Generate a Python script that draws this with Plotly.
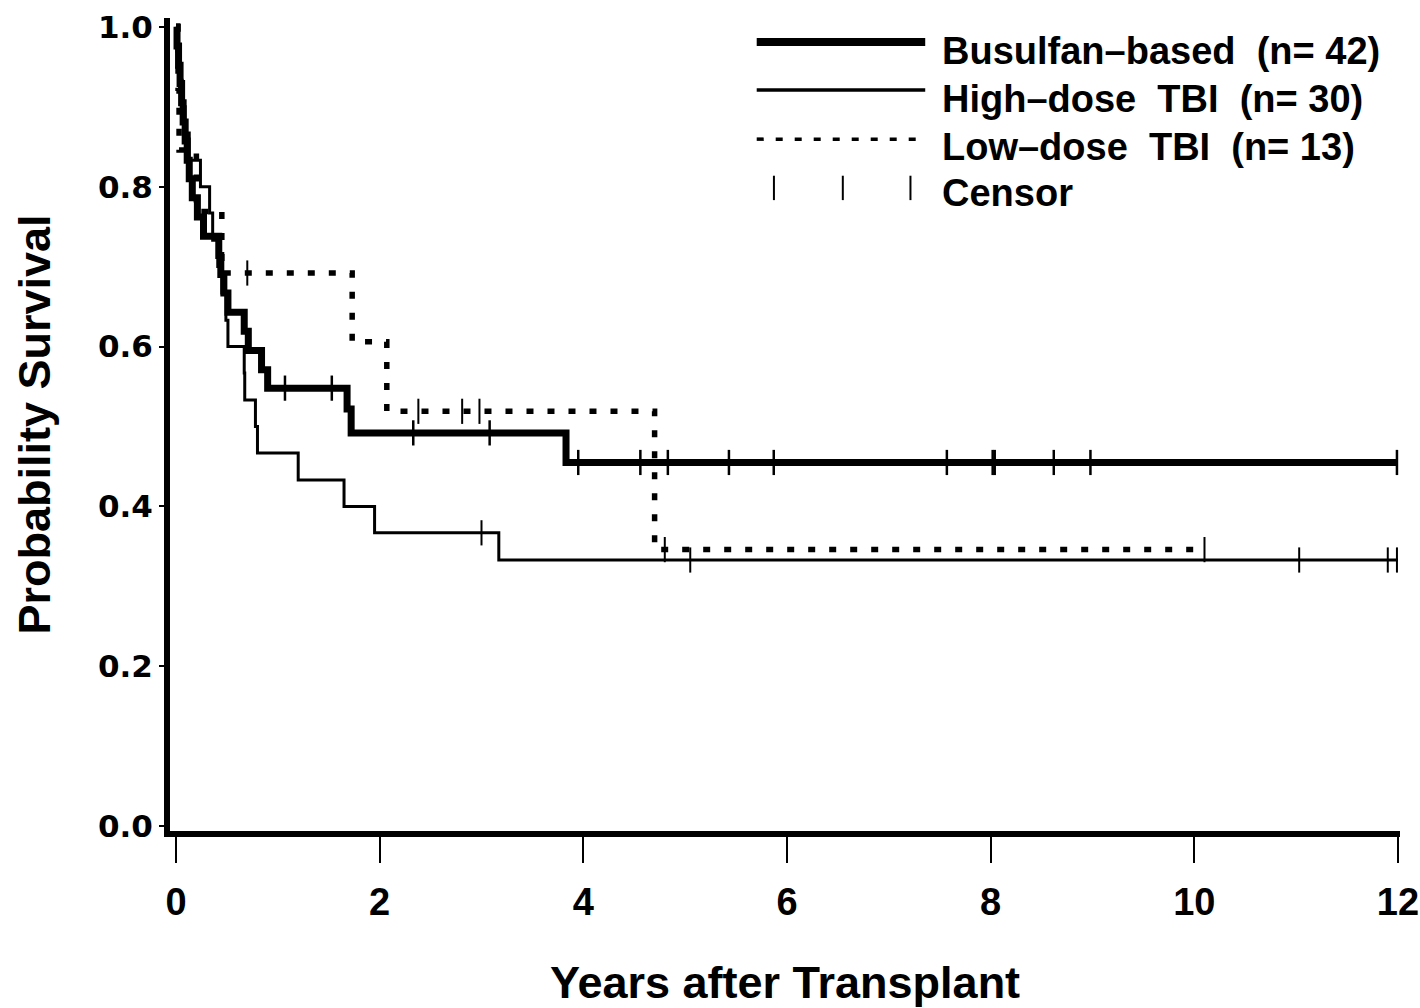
import plotly.graph_objects as go

# ---------------- data ----------------
# Busulfan-based (n=42)
bu_t = [0, 0.01, 0.025, 0.04, 0.055, 0.07, 0.09, 0.11, 0.13, 0.16, 0.21, 0.27,
        0.42, 0.44, 0.47, 0.51, 0.67, 0.71, 0.84, 0.90, 1.68, 1.72, 3.83, 12.0]
bu_s = [1.0, 0.976, 0.952, 0.929, 0.905, 0.881, 0.857, 0.833, 0.810, 0.786, 0.762, 0.738,
        0.714, 0.690, 0.667, 0.643, 0.619, 0.595, 0.571, 0.548, 0.522, 0.492, 0.455, 0.455]
bu_cens = [1.07, 1.53, 2.33, 3.08, 3.95, 4.56, 4.83, 5.43, 5.87, 7.57, 8.02, 8.04,
           8.62, 8.98, 11.99]

# High-dose TBI (n=30)
hd_t = [0, 0.02, 0.04, 0.06, 0.09, 0.13, 0.24, 0.33, 0.36, 0.41, 0.45, 0.49, 0.51,
        0.67, 0.675, 0.78, 0.80, 1.20, 1.65, 1.95, 3.17, 12.0]
hd_s = [1.0, 0.967, 0.933, 0.900, 0.867, 0.833, 0.800, 0.767, 0.733, 0.700, 0.667, 0.633, 0.600,
        0.567, 0.533, 0.500, 0.467, 0.433, 0.400, 0.367, 0.333, 0.333]
hd_cens = [3.00, 5.05, 11.03, 11.90, 11.99]

# Low-dose TBI (n=13)
lo_t = [0, 0.02, 0.03, 0.20, 0.45, 1.73, 2.07, 4.70, 10.1]
lo_s = [1.0, 0.923, 0.846, 0.769, 0.692, 0.606, 0.519, 0.346, 0.346]
lo_cens = [0.70, 2.38, 2.81, 2.98, 4.80, 10.1]

legend_labels = ["Busulfan\u2013based \u00a0(n= 42)", "High\u2013dose \u00a0TBI \u00a0(n= 30)",
                 "Low\u2013dose \u00a0TBI \u00a0(n= 13)", "Censor"]
x_ticks = [0, 2, 4, 6, 8, 10, 12]
y_ticks = [0.0, 0.2, 0.4, 0.6, 0.8, 1.0]
y_tick_text = ["0.0", "0.2", "0.4", "0.6", "0.8", "1.0"]


def level_at(times, surv, t):
    lev = surv[0]
    for ti, si in zip(times, surv):
        if ti <= t:
            lev = si
    return lev


SANS = "Liberation Sans, Arial, sans-serif"
WIDE = "DejaVu Sans, Verdana, sans-serif"

fig = go.Figure()

series = [
    (bu_t, bu_s, bu_cens, 7, "solid", 2.5),
    (hd_t, hd_s, hd_cens, 3, "solid", 2),
    (lo_t, lo_s, lo_cens, 5.5, "7px,14px", 2),
]
for t, s, c, w, dash, cw in series:
    fig.add_trace(go.Scatter(x=t, y=s, mode="lines", line=dict(color="black", width=w, shape="hv", dash=dash),
                             showlegend=False, hoverinfo="skip"))
    fig.add_trace(go.Scatter(x=c, y=[level_at(t, s, ci) for ci in c], mode="markers",
                             marker=dict(symbol="line-ns", size=18, color="black",
                                         line=dict(color="black", width=cw)),
                             showlegend=False, hoverinfo="skip"))

# ---- custom legend (paper coordinates) ----
lx0, lx1 = 0.477, 0.614
rows = [0.9705, 0.9114, 0.851]
styles = [(8, "solid"), (3.5, "solid"), (3.5, "7px,12px")]
for yy, (w, d) in zip(rows, styles):
    fig.add_shape(type="line", xref="paper", yref="paper", x0=lx0, x1=lx1, y0=yy, y1=yy,
                  line=dict(color="black", width=w, dash=d))
for xx in [0.491, 0.547, 0.602]:
    fig.add_shape(type="line", xref="paper", yref="paper", x0=xx, x1=xx, y0=0.776, y1=0.806,
                  line=dict(color="black", width=2))
text_rows = [0.960, 0.900, 0.841, 0.7845]
for yy, lab in zip(text_rows, legend_labels):
    fig.add_annotation(xref="paper", yref="paper", x=0.626, y=yy, text=lab, showarrow=False,
                       xanchor="left", yanchor="middle",
                       font=dict(family=SANS, size=38, color="black", weight="bold"))

fig.update_layout(
    width=1420, height=1008, autosize=False,
    margin=dict(l=170, r=20, t=18, b=177),
    paper_bgcolor="white", plot_bgcolor="white",
    showlegend=False,
)
fig.update_xaxes(
    range=[-0.059, 12.02], tickmode="array", tickvals=x_ticks, automargin=False,
    showgrid=False, zeroline=False, showline=True, linecolor="black", linewidth=6,
    ticks="outside", ticklen=26, tickwidth=1.5, tickcolor="black",
    tickfont=dict(family=SANS, size=38, color="black", weight="bold"),
    ticklabelstandoff=6, ticklabeloverflow="allow",
    title=dict(text="Years after Transplant", standoff=50,
               font=dict(family=SANS, size=45, color="black", weight="bold")),
)
fig.update_yaxes(
    range=[-0.006, 1.011], tickmode="array", tickvals=y_ticks, ticktext=y_tick_text,
    automargin=False,
    showgrid=False, zeroline=False, showline=True, linecolor="black", linewidth=6,
    ticks="outside", ticklen=5, tickwidth=1.5, tickcolor="black",
    tickfont=dict(family=WIDE, size=31, color="black", weight="bold"),
    title=dict(text="Probability Survival", standoff=35,
               font=dict(family=SANS, size=45, color="black", weight="bold")),
)

fig.write_html("out.html", post_script="document.body.style.margin='0';",
               config={"displayModeBar": False})
